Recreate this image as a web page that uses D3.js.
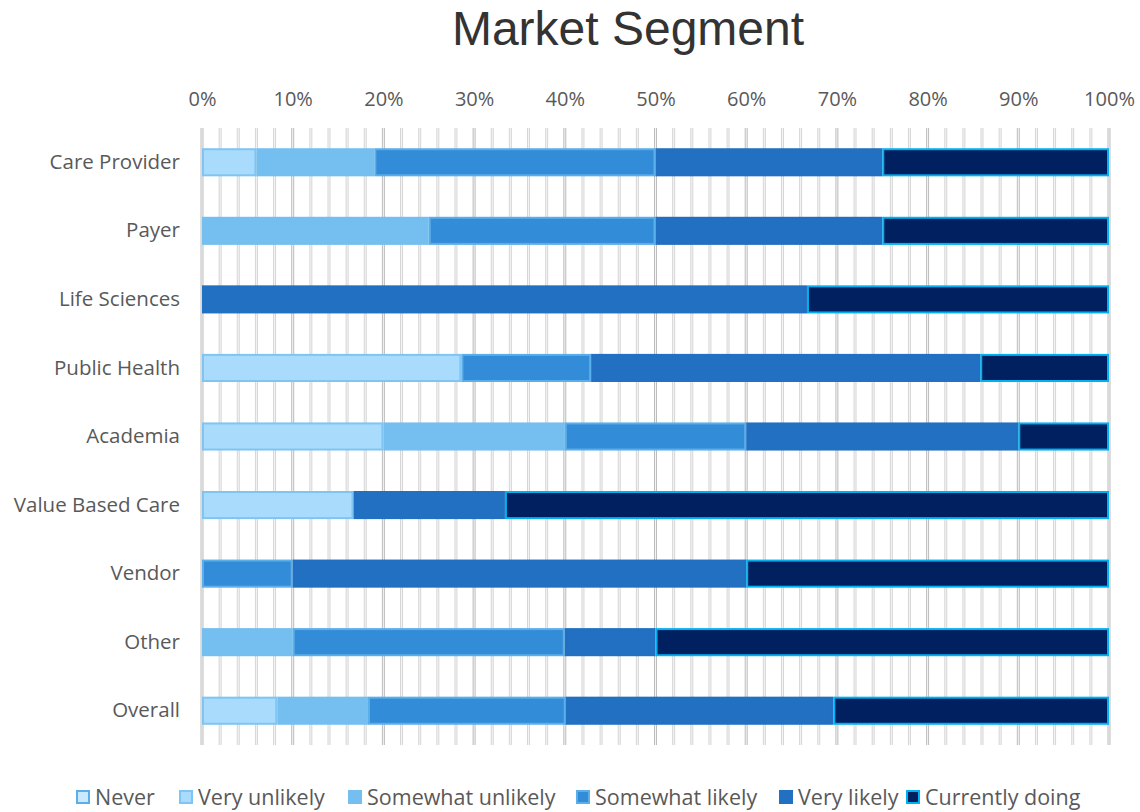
<!DOCTYPE html>
<html>
<head>
<meta charset="utf-8">
<script src="https://cdn.jsdelivr.net/npm/d3@7"></script>
<style>
  body { margin: 0; background: #fff; }
  text { font-family: "Open Sans", sans-serif; }
</style>
</head>
<body>
<svg id="chart" width="1140" height="812"></svg>
<script>
// categories and series (percent of respondents)
const categories = ['Care Provider', 'Payer', 'Life Sciences', 'Public Health', 'Academia',
  'Value Based Care', 'Vendor', 'Other', 'Overall']
const seriesNames = ['Never', 'Very unlikely', 'Somewhat unlikely', 'Somewhat likely', 'Very likely', 'Currently doing']
const never = [0, 0, 0, 0, 0, 0, 0, 0, 0]
const veryUnlikely = [6, 0, 0, 28.6, 20, 16.7, 0, 0, 8.3]
const somewhatUnlikely = [13, 25, 0, 0, 20, 0, 0, 10, 10]
const somewhatLikely = [31, 25, 0, 14.3, 20, 0, 10, 30, 21.8]
const veryLikely = [25, 25, 66.7, 42.9, 30, 16.7, 50, 10, 29.5]
const currentlyDoing = [25, 25, 33.3, 14.2, 10, 66.6, 40, 50, 30.4]
const tickValues = [0, 10, 20, 30, 40, 50, 60, 70, 80, 90, 100]

const fills = ['#cbe8fc', '#a9dbfd', '#74bff0', '#338cd7', '#2270c1', '#002060']
const strokes = ['#5baeea', '#7fc4f3', '#74bff0', '#5baeea', '#2270c1', '#00b0f0']

const seriesValues = [never, veryUnlikely, somewhatUnlikely, somewhatLikely, veryLikely, currentlyDoing]
const rows = categories.map((c, i) => {
  const r = { cat: c }
  seriesNames.forEach((s, j) => { r[s] = seriesValues[j][i] })
  return r
})

const svg = d3.select('#chart')
const margin = { left: 202, right: 31, top: 128, bottom: 67 }
const width = 1140 - margin.left - margin.right
const height = 812 - margin.top - margin.bottom

svg.append('text')
  .attr('x', 628).attr('y', 45)
  .attr('text-anchor', 'middle')
  .style('font-family', '"Liberation Sans", Arial, sans-serif')
  .style('font-size', '48px')
  .attr('fill', '#333333')
  .text('Market Segment')

const g = svg.append('g').attr('transform', 'translate(' + margin.left + ',' + margin.top + ')')

const x = d3.scaleLinear().domain([0, 100]).range([0, width])
const y = d3.scaleBand().domain(categories).range([0, height]).paddingInner(0.59).paddingOuter(0.295)

// gridlines every 2%
const minor = d3.range(0, 101, 2)
g.selectAll('.grid')
  .data(minor)
  .join('line')
  .attr('x1', d => x(d)).attr('x2', d => x(d))
  .attr('y1', 0).attr('y2', height)
  .attr('stroke', d => d % 10 === 0 ? '#bdbdbd' : '#d6d6d6')
  .attr('stroke-width', 3)
g.selectAll('.gridc')
  .data(minor)
  .join('line')
  .attr('x1', d => x(d)).attr('x2', d => x(d))
  .attr('y1', 0).attr('y2', height)
  .attr('stroke', '#f5f5f5')
  .attr('stroke-width', 1)

// top axis
const axis = d3.axisTop(x).tickValues(tickValues).tickFormat(d => d + '%').tickSize(0).tickPadding(22)
const ax = g.append('g').call(axis)
ax.select('.domain').remove()
ax.selectAll('text').style('font-size', '20px').attr('fill', '#595959')
  .style('font-family', '"Open Sans", sans-serif')

// left category labels
const ly = g.append('g').call(d3.axisLeft(y).tickSize(0).tickPadding(22))
ly.select('.domain').remove()
ly.selectAll('text').style('font-size', '20.5px').attr('fill', '#595959')
  .style('font-family', '"Open Sans", sans-serif')

const stack = d3.stack().keys(seriesNames)(rows)

stack.forEach((layer, j) => {
  g.selectAll('.s' + j)
    .data(layer.filter(d => d[1] - d[0] > 0))
    .join('rect')
    .attr('x', d => x(d[0]) + 1)
    .attr('y', d => y(d.data.cat) + 1)
    .attr('width', d => x(d[1]) - x(d[0]) - 2)
    .attr('height', y.bandwidth() - 2)
    .attr('fill', fills[j])
    .attr('stroke', strokes[j])
    .attr('stroke-width', 2)
})

// legend
const legendX = [76, 179, 348, 576, 779, 906]
const lg = svg.append('g').attr('transform', 'translate(0,797)')
seriesNames.forEach((s, j) => {
  lg.append('rect')
    .attr('x', legendX[j] + 1).attr('y', -6)
    .attr('width', 12).attr('height', 12)
    .attr('fill', fills[j])
    .attr('stroke', strokes[j])
    .attr('stroke-width', 2)
  lg.append('text')
    .attr('x', legendX[j] + 19).attr('y', 0)
    .attr('dy', '0.35em')
    .style('font-size', '21.5px')
    .attr('fill', '#595959')
    .text(s)
})
</script>
</body>
</html>
